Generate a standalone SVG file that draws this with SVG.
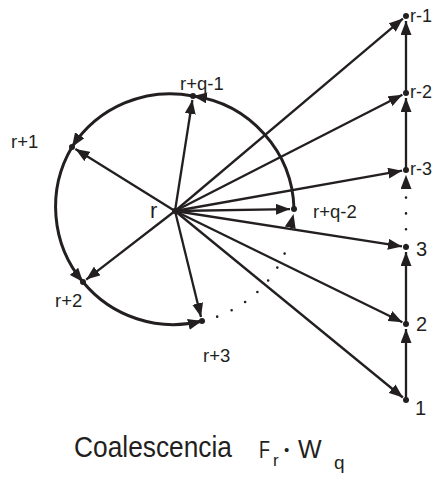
<svg xmlns="http://www.w3.org/2000/svg" width="435" height="480" viewBox="0 0 435 480">
<style>
.ln{stroke:#231f20;stroke-width:2.3;fill:none;marker-end:url(#ah)}
.arc{stroke:#231f20;stroke-width:3;fill:none;marker-end:url(#ah)}
.dot{stroke:#231f20;stroke-width:2.6;fill:none;stroke-linecap:round;stroke-dasharray:0 15.8}
.nd{fill:#231f20}
text{font-family:"Liberation Sans",Arial,sans-serif;fill:#231f20}
.lb{font-size:18.5px}
.rt{font-size:18px}
.dg{font-size:20px}
</style>
<defs>
<marker id="ah" markerUnits="userSpaceOnUse" markerWidth="14" markerHeight="11" refX="14" refY="5.5" orient="auto" viewBox="0 0 14 11"><path d="M0,0 L14,5.5 L0,11 z" fill="#231f20"/></marker>
</defs>
<rect width="435" height="480" fill="#fff"/>
<g id="connectors">
<path class="ln" d="M175,211 L402.9,18.6"/>
<path class="ln" d="M175,211 L402.4,94.8"/>
<path class="ln" d="M175,211 L402.1,170.7"/>
<path class="ln" d="M175,211 L402,246.4"/>
<path class="ln" d="M175,211 L402.4,322.2"/>
<path class="ln" d="M175,211 L402.9,397.5"/>
<path class="ln" d="M175,211 L192.4,100"/>
<path class="ln" d="M175,211 L75.4,149.1"/>
<path class="ln" d="M175,211 L86.2,279.6"/>
<path class="ln" d="M175,211 L201,317.1"/>
<path class="ln" d="M175,211 L290,209.1"/>
<path class="ln" d="M406,400 L406,329"/>
<path class="ln" d="M406,324 L406,252"/>
<path class="ln" d="M406,170 L406,98"/>
<path class="ln" d="M406,93 L406,21"/>
<path class="dot" d="M406,245 L406,185"/>
<path class="ln" d="M406,189 L406,175" style="stroke-width:0.1"/>
<path class="arc" d="M294,209 A117,117 0 0 0 193,96"/>
<path class="arc" d="M193,96 A117,117 0 0 0 72,147"/>
<path class="arc" d="M72,147 A117,117 0 0 0 83,282"/>
<path class="arc" d="M83,282 A117,117 0 0 0 202,321"/>
<path class="dot" d="M202,321 A117,117 0 0 0 289,242"/>
<path class="arc" d="M290,229 L293.5,214" style="stroke-width:0.1"/>
</g>
<g id="n-r"><circle class="nd" cx="175" cy="211" r="3"/><text x="150" y="218" style="font-size:22px">r</text></g>
<g id="n-rq1"><circle class="nd" cx="193" cy="96" r="3"/><text class="lb" x="180" y="90">r+q-1</text></g>
<g id="n-r1"><circle class="nd" cx="72" cy="147" r="3"/><text class="lb" x="11" y="148">r+1</text></g>
<g id="n-r2"><circle class="nd" cx="83" cy="282" r="3"/><text class="lb" x="55" y="307">r+2</text></g>
<g id="n-r3"><circle class="nd" cx="202" cy="321" r="3"/><text class="lb" x="203" y="362">r+3</text></g>
<g id="n-rq2"><circle class="nd" cx="294" cy="209" r="3"/><text class="lb" x="313" y="218">r+q-2</text></g>
<g id="n-rm1"><circle class="nd" cx="406" cy="16" r="3"/><text class="rt" x="410" y="22">r-1</text></g>
<g id="n-rm2"><circle class="nd" cx="406" cy="93" r="3"/><text class="rt" x="410" y="98">r-2</text></g>
<g id="n-rm3"><circle class="nd" cx="406" cy="170" r="3"/><text class="rt" x="410" y="175">r-3</text></g>
<g id="n-3"><circle class="nd" cx="406" cy="247" r="3"/><text class="dg" x="416" y="256">3</text></g>
<g id="n-2"><circle class="nd" cx="406" cy="324" r="3"/><text class="dg" x="416" y="331">2</text></g>
<g id="n-1"><circle class="nd" cx="406" cy="400" r="3"/><text class="dg" x="415" y="415">1</text></g>
<g id="caption">
<text x="74" y="457" style="font-size:30px" textLength="158" lengthAdjust="spacingAndGlyphs">Coalescencia</text>
<text x="259" y="458" style="font-size:23px" textLength="11" lengthAdjust="spacingAndGlyphs">F</text>
<text x="273" y="466" style="font-size:17px">r</text>
<text x="284" y="455" style="font-size:15px">•</text>
<text x="298" y="458" style="font-size:25px">W</text>
<text x="334" y="469" style="font-size:19px">q</text>
</g>
</svg>
